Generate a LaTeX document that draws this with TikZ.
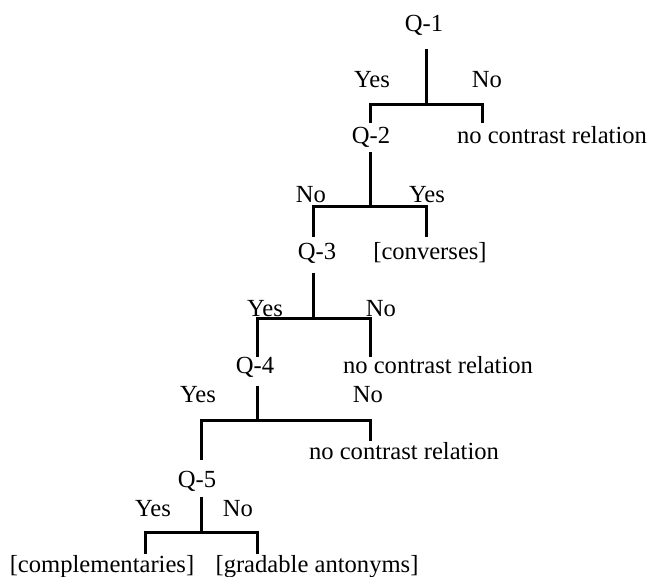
\documentclass[tikz,border=0pt]{standalone}
\usepackage{fontspec}
\setmainfont{Liberation Serif}

\begin{document}
\begin{tikzpicture}[
    x=0.5pt, y=-0.5pt,
    font=\fontsize{12.3}{14}\selectfont,
    question/.style={anchor=base, inner sep=0pt},
    answer/.style={anchor=base, inner sep=0pt},
    leaf/.style={anchor=base, inner sep=0pt},
    branch/.style={line width=1.5pt}
  ]
    \useasboundingbox (0,0) rectangle (650,577);

    % questions and outcomes
    \node[question] (q1) at (424,32) {Q-1};
    \node[question] (q2) at (371,144) {Q-2};
    \node[leaf] (none1) at (552,144) {no contrast relation};
    \node[question] (q3) at (317,260) {Q-3};
    \node[leaf] (conv) at (430,260) {[converses]};
    \node[question] (q4) at (255,374) {Q-4};
    \node[leaf] (none2) at (438,374) {no contrast relation};
    \node[leaf] (none3) at (404,460) {no contrast relation};
    \node[question] (q5) at (197,488) {Q-5};
    \node[leaf] (compl) at (102,573) {[complementaries]};
    \node[leaf] (grad) at (317,573) {[gradable antonyms]};

    % answers
    \node[answer] (yes1) at (372,88) {Yes};
    \node[answer] (no1) at (487,88) {No};
    \node[answer] (no2) at (311,203) {No};
    \node[answer] (yes2) at (427,203) {Yes};
    \node[answer] (yes3) at (265,317) {Yes};
    \node[answer] (no3) at (381,317) {No};
    \node[answer] (yes4) at (198,403) {Yes};
    \node[answer] (no4) at (368,403) {No};
    \node[answer] (yes5) at (153,517) {Yes};
    \node[answer] (no5) at (238,517) {No};

    % branch points
    \coordinate (top1) at (427,49);  \coordinate (fork1) at (427,105);
    \coordinate (left1) at (371,123); \coordinate (right1) at (483,123);
    \coordinate (top2) at (371,152); \coordinate (fork2) at (371,207);
    \coordinate (left2) at (314,237); \coordinate (right2) at (427,237);
    \coordinate (top3) at (314,273); \coordinate (fork3) at (314,319);
    \coordinate (left3) at (258,357); \coordinate (right3) at (371,357);
    \coordinate (top4) at (258,386); \coordinate (fork4) at (258,421);
    \coordinate (left4) at (202,460); \coordinate (right4) at (371,441);
    \coordinate (top5) at (202,497); \coordinate (fork5) at (202,533);
    \coordinate (left5) at (146,554); \coordinate (right5) at (258,554);

    \draw[branch] (top1) -- (fork1);
    \draw[branch] (left1) |- (fork1) -| (right1);
    \draw[branch] (top2) -- (fork2);
    \draw[branch] (left2) |- (fork2) -| (right2);
    \draw[branch] (top3) -- (fork3);
    \draw[branch] (left3) |- (fork3) -| (right3);
    \draw[branch] (top4) -- (fork4);
    \draw[branch] (left4) |- (fork4) -| (right4);
    \draw[branch] (top5) -- (fork5);
    \draw[branch] (left5) |- (fork5) -| (right5);
\end{tikzpicture}
\end{document}
